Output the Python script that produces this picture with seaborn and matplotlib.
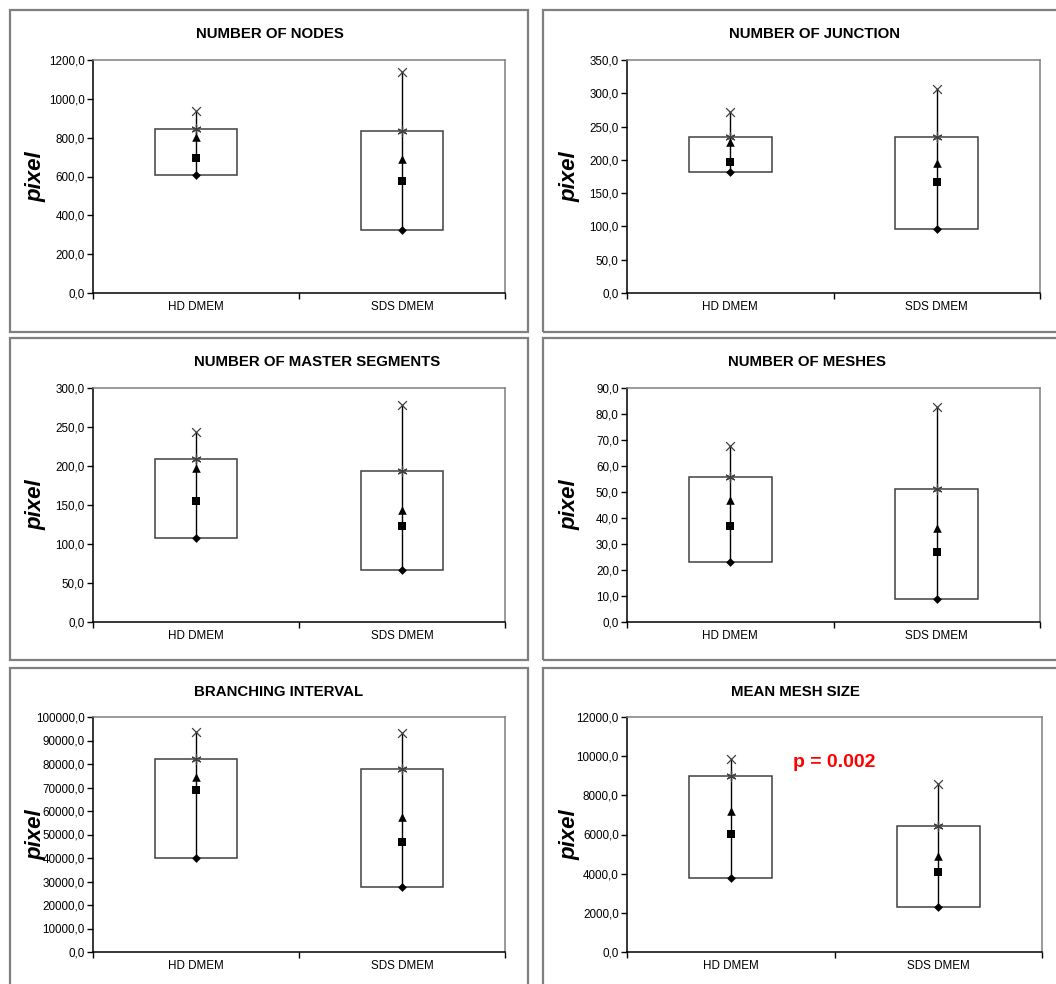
import numpy as np
import pandas as pd
import matplotlib
matplotlib.use("Agg")
import matplotlib.pyplot as plt
from matplotlib.patches import Rectangle
from matplotlib.ticker import FuncFormatter, MultipleLocator
import seaborn as sns

# ---------------- data ----------------
titles = ["NUMBER OF NODES", "NUMBER OF JUNCTION", "NUMBER OF MASTER SEGMENTS",
          "NUMBER OF MESHES", "BRANCHING INTERVAL", "MEAN MESH SIZE"]
groups = ["HD DMEM", "SDS DMEM"]
y_max = [1200, 350, 300, 90, 100000, 12000]
y_step = [200, 50, 50, 10, 10000, 2000]

min_vals = [[608, 324], [181.5, 95.5], [108, 67], [23, 9], [40000, 27700], [3780, 2320]]
median_vals = [[693, 576], [196.5, 166], [155, 122.6], [36.9, 27], [68900, 46900], [6017, 4074]]
mean_vals = [[806, 689], [227.5, 195], [198, 143], [47, 36], [74500, 57300], [7210, 4892]]
q3_vals = [[843, 832], [235, 234.5], [209.5, 193], [55.8, 51.2], [82100, 78000], [8983, 6420]]
max_vals = [[939, 1137], [271.5, 306], [244, 278], [67.7, 82.7], [93700, 93300], [9870, 8574]]
p_text = "p = 0.002"

# ---------------- style ----------------
sns.set_style("white")
plt.rcParams["font.family"] = ["Liberation Sans", "DejaVu Sans"]
plt.rcParams["text.color"] = "black"
plt.rcParams["axes.labelcolor"] = "black"
plt.rcParams["xtick.color"] = "black"
plt.rcParams["ytick.color"] = "black"

W, H = 1056, 984
fig = plt.figure(figsize=(W / 100, H / 100), dpi=100)

# panel frames (pixels: x0, y0, x1, y1)
frames = [(10, 10, 528, 332), (543, 10, 1062, 332),
          (10, 338, 528, 660), (543, 338, 1062, 660),
          (10, 668, 528, 992), (543, 668, 1062, 992)]
# axes areas (pixels: left, top, right, bottom)
axes_px = [(93, 60, 505, 293), (627, 60, 1040, 293),
           (93, 388, 505, 622), (627, 388, 1040, 622),
           (93, 717, 505, 952), (627, 717, 1042, 952)]
title_px = [(196, 34), (729, 34), (194, 362), (728, 362), (194, 692), (731, 692)]

for (x0, y0, x1, y1) in frames:
    fig.add_artist(Rectangle((x0 / W, 1 - y1 / H), (x1 - x0) / W, (y1 - y0) / H,
                             transform=fig.transFigure, fill=False,
                             edgecolor="#7f7f7f", linewidth=1.6))

fmt = FuncFormatter(lambda v, pos: f"{v:.1f}".replace(".", ","))
pos = np.arange(len(groups))

for i in range(6):
    l, t, r, b = axes_px[i]
    ax = fig.add_axes([l / W, 1 - b / H, (r - l) / W, (b - t) / H])
    ax.set_facecolor("white")

    lo = np.array(min_vals[i], dtype=float)
    hi_box = np.array(q3_vals[i], dtype=float)
    ax.bar(pos, hi_box - lo, bottom=lo, width=0.4, color="white",
           edgecolor="#404040", linewidth=1.1, zorder=2)
    ax.vlines(pos, min_vals[i], max_vals[i], color="black", linewidth=1.0, zorder=3)

    sns.scatterplot(x=pos, y=max_vals[i], marker="x", color="#404040", s=40,
                    linewidth=0.9, ax=ax, zorder=4)
    sns.scatterplot(x=pos, y=q3_vals[i], marker=(6, 2, 0), color="#404040", s=44,
                    linewidth=0.9, ax=ax, zorder=4)
    sns.scatterplot(x=pos, y=mean_vals[i], marker="^", color="black", s=38,
                    linewidth=0, ax=ax, zorder=5)
    sns.scatterplot(x=pos, y=median_vals[i], marker="s", color="black", s=36,
                    linewidth=0, ax=ax, zorder=5)
    sns.scatterplot(x=pos, y=min_vals[i], marker="D", color="black", s=20,
                    linewidth=0, ax=ax, zorder=5)

    ax.set_xlim(-0.5, 1.5)
    ax.set_ylim(0, y_max[i])
    ax.yaxis.set_major_locator(MultipleLocator(y_step[i]))
    ax.yaxis.set_major_formatter(fmt)
    ax.set_xticks(pos)
    ax.set_xticklabels(groups)
    ax.set_xticks([-0.5, 0.5, 1.5], minor=True)
    ax.tick_params(axis="x", which="major", length=0, pad=6, labelsize=8.4, colors="black")
    ax.tick_params(axis="x", which="minor", length=4, width=1, color="black", direction="out")
    ax.tick_params(axis="y", which="major", length=4, width=1, color="black",
                   direction="out", labelsize=8.4, pad=2)
    ax.tick_params(axis="y", left=True)
    ax.tick_params(axis="x", which="minor", bottom=True)

    for s in ["left", "bottom"]:
        ax.spines[s].set_color("black")
        ax.spines[s].set_linewidth(1.1)
    for s in ["top", "right"]:
        ax.spines[s].set_color("#7f7f7f")
        ax.spines[s].set_linewidth(1.1)

    ax.set_xlabel("")
    ax.set_ylabel("pixel", fontsize=16, fontweight="bold", fontstyle="italic", color="black")
    ax.yaxis.set_label_coords(-47 / (r - l), 0.5)

    tx, ty = title_px[i]
    fig.text(tx / W, 1 - ty / H, titles[i], ha="left", va="center",
             fontsize=10.8, fontweight="bold", color="black")

    if i == 5:
        ax.text(0.5, 9700, p_text, color="red", fontsize=14, fontweight="bold",
                ha="center", va="center")

fig.savefig("out.png", dpi=100)
